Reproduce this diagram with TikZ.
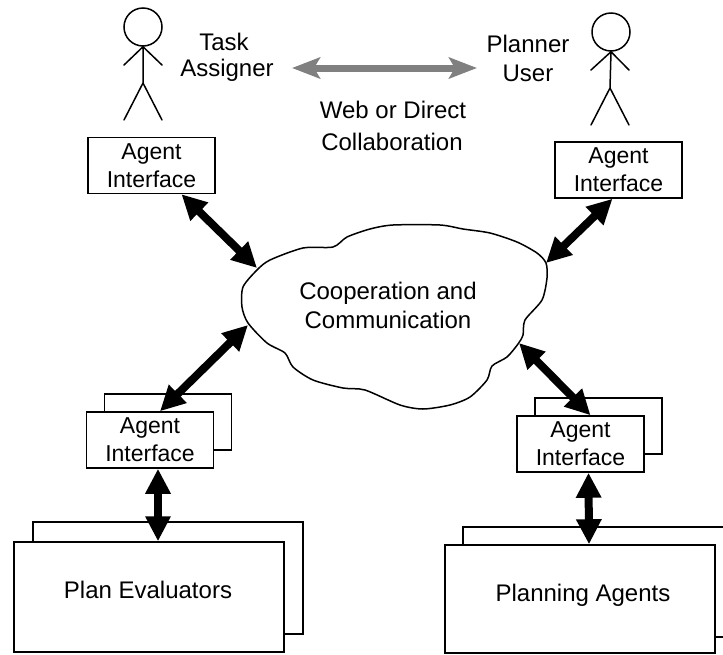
\documentclass[tikz,border=0pt]{standalone}
\usepackage{fontspec}
\setmainfont{Liberation Sans}
\usetikzlibrary{arrows.meta,calc}
\tikzset{
  boxline/.style={line width=1.5pt,draw=black,fill=white,inner sep=0pt,align=center},
  txt/.style={inner sep=0pt,align=center,font=\fontsize{24}{29}\selectfont},
  agentbox/.style={boxline,minimum width=127pt,minimum height=56pt,font=\fontsize{23}{28}\selectfont},
  bigbox/.style={boxline,minimum width=270pt,minimum height=110pt},
  stick/.style={line width=1.5pt,line cap=round},
  link/.style={line width=8pt,{Triangle[length=25pt,width=24pt]}-{Triangle[length=25pt,width=24pt]}},
  web/.style={line width=7pt,draw=black!50,{Stealth[length=28pt,width=21pt,inset=6pt]}-{Stealth[length=28pt,width=21pt,inset=6pt]}},
  cloudline/.style={line width=1.5pt,draw=black,fill=white}
}
\begin{document}
\begin{tikzpicture}[x=1pt,y=-1pt]
\clip (0,0) rectangle (723,654);
\fill[white] (0,0) rectangle (723,654);
% stick figures
\node[circle,draw,line width=1.5pt,minimum size=38pt,inner sep=0pt] (headL) at (143,27) {};
\coordinate (hipL) at (143,83);
\coordinate (handL1) at (124,65);
\coordinate (handL2) at (162,65);
\coordinate (footL1) at (124,120);
\coordinate (footL2) at (162,120);
\draw[stick] (headL.south) -- (hipL) (headL.south) -- (handL1) (headL.south) -- (handL2)
  (hipL) -- (footL1) (hipL) -- (footL2);
\node[circle,draw,line width=1.5pt,minimum size=38pt,inner sep=0pt] (headR) at (611,32) {};
\coordinate (hipR) at (610,88);
\coordinate (handR1) at (591,70);
\coordinate (handR2) at (629,70);
\coordinate (footR1) at (591,125);
\coordinate (footR2) at (629,125);
\draw[stick] (headR.south) -- (hipR) (headR.south) -- (handR1) (headR.south) -- (handR2)
  (hipR) -- (footR1) (hipR) -- (footR2);
% labels
\node[txt] (task) at (224,42) {Task};
\node[txt] (assigner) at (227,70) {Assigner};
\node[txt] (planner) at (528,44) {Planner};
\node[txt] (user) at (528,73) {User};
\node[txt] (webd) at (393,110) {Web or Direct};
\node[txt] (collab) at (392,142) {Collaboration};
\coordinate (webL) at (292,68);
\coordinate (webR) at (477,68);
\draw[web] (webL) -- (webR);
% cloud
\draw[cloudline] plot[smooth cycle,tension=0.45] coordinates {
 (257,270) (270,260) (303,248) (333,247) (347,237) (370,229) (393,225) (440,225)
 (463,229) (490,233) (517,242) (537,253) (546,263) (547,278) (542,300) (525,320)
 (523,335) (518,344) (507,357) (492,366) (487,380) (470,397) (450,405) (423,409)
 (400,405) (365,390) (343,388) (313,380) (293,367) (285,353) (267,343) (248,323)
 (242,307) (243,287)};
\node[txt] (cloudtext) at (388,305) {Cooperation and\\Communication};
\coordinate (cA) at (257,268);
\coordinate (cB) at (546,263);
\coordinate (cC) at (248,325);
\coordinate (cD) at (519,343);
% agent boxes
\node[agentbox] (tl) at (151.5,165.5) {Agent\\Interface};
\node[agentbox] (tr) at (618.5,170) {Agent\\Interface};
\node[agentbox] (llb) at (168,422) {};
\node[agentbox] (ll) at (150,440) {Agent\\Interface};
\node[agentbox] (lrb) at (598.5,426) {};
\node[agentbox] (lr) at (580.5,444) {Agent\\Interface};
% big boxes
\node[bigbox,minimum height=112pt] (peb) at (168,578) {};
\node[bigbox] (pe) at (149,597) {};
\node[txt] (petext) at (148,590) {Plan Evaluators};
\node[bigbox,minimum height=110pt] (pab) at (598,582) {};
\node[bigbox,minimum height=108pt] (pa) at (580,599) {};
\node[txt] (patext) at (583,595) {Planning Agents};
% connectors
\draw[link] ([xshift=30pt]tl.south) -- (cA);
\draw[link] ([xshift=-6pt]tr.south) -- (cB);
\draw[link] ([xshift=10pt]ll.north) -- (cC);
\draw[link] (cD) -- ([xshift=10pt]lr.north);
\draw[link] ([xshift=8pt]ll.south) -- ([xshift=9pt]pe.north);
\draw[link] ([xshift=8pt]lr.south) -- ([xshift=9pt]pa.north);
\end{tikzpicture}
\end{document}
